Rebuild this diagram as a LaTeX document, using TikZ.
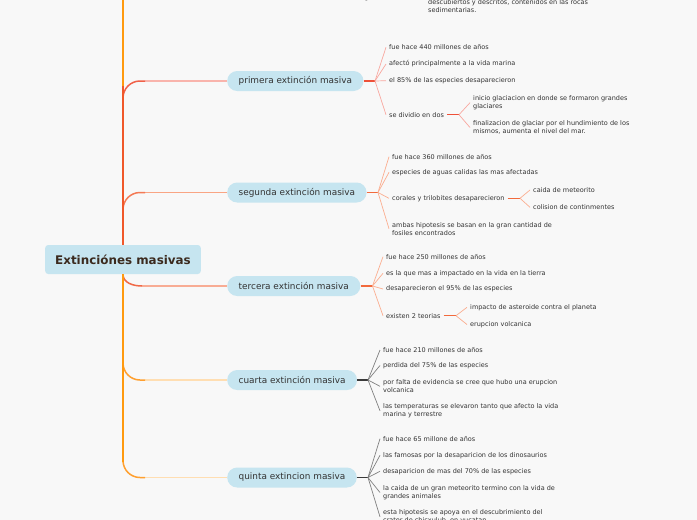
\documentclass[tikz,border=0pt]{standalone}
\usepackage{fontspec}
\setmainfont{DejaVu Sans}
\usetikzlibrary{positioning, calc}

\definecolor{bgcol}{HTML}{F8F8F8}
\definecolor{topicfill}{HTML}{C6E5F0}
\definecolor{maintext}{HTML}{3B2A1E}
\definecolor{leaftext}{HTML}{333333}
\definecolor{trunkred}{HTML}{F0582A}
\definecolor{trunkorange}{HTML}{FF9A10}
\definecolor{primdark}{HTML}{F06048}
\definecolor{primlight}{HTML}{F9B4AC}
\definecolor{segdark}{HTML}{F47A55}
\definecolor{seglight}{HTML}{F9A584}
\definecolor{terdark}{HTML}{F06A48}
\definecolor{terlight}{HTML}{F8AC94}
\definecolor{orangedark}{HTML}{FFA030}
\definecolor{orangelight}{HTML}{FFDEB2}
\definecolor{primjoint}{HTML}{EE5038}
\definecolor{primfan}{HTML}{F8A8A0}
\definecolor{segjoint}{HTML}{F26A3C}
\definecolor{segfan}{HTML}{FBAE90}
\definecolor{grayjoint}{HTML}{3A3A3A}
\definecolor{grayfan}{HTML}{808080}

\tikzset{
  central/.style={fill=topicfill, rounded corners=3pt, minimum height=29pt,
    inner xsep=10pt, inner ysep=0pt, text=maintext,
    font=\fontsize{11.9}{13}\selectfont\bfseries},
  topic/.style={fill=topicfill, rounded corners=10pt, minimum height=20pt,
    inner xsep=11.5pt, inner ysep=0pt, anchor=west, text=leaftext,
    font=\fontsize{8.9}{10}\selectfont},
  leaf/.style={anchor=west, inner xsep=3pt, inner ysep=0pt, align=left,
    text=leaftext, font=\fontsize{6.5}{8}\selectfont},
}

\begin{document}
\begin{tikzpicture}[
      x=1pt, y=-1pt,
      trunk/.style={line width=2.7pt},
      curvebranch/.style={line width=1.5pt, rounded corners=17pt},
      twig/.style={line width=1.1pt},
      joint/.style={line width=1.4pt},
      fan/.style={line width=0.7pt},
  ]
      % Canvas
      \useasboundingbox[fill=bgcol] (0,0) rectangle (697,520);
      \clip (0,0) rectangle (697,520);

      % Central topic
      \node[central] (main) at (123,259.5) {Extinciónes masivas};

      % Main topics
      \node[topic] (t1) at (227,81) {primera extinción masiva};
      \node[topic] (t2) at (227,192.5) {segunda extinción masiva};
      \node[topic] (t3) at (227,286) {tercera extinción masiva};
      \node[topic] (t4) at (227,380) {cuarta extinción masiva};
      \node[topic] (t5) at (227,477.5) {quinta extincion masiva};

      % Ends of the curved parts of the branches
      \coordinate (b1) at (145,81);
      \coordinate (b2) at (145,192.5);
      \coordinate (b3) at (142,286);
      \coordinate (b4) at (145,380);
      \coordinate (b5) at (145,477.5);
      \coordinate (top) at (123,-20);

      % Branches: light straight parts
      \draw[twig, primlight] (b1) -- (t1);
      \draw[twig, seglight] (b2) -- (t2);
      \draw[twig, terlight] (b3) -- (t3);
      \draw[twig, orangelight] (b4) -- (t4);
      \draw[twig, orangelight] (b5) -- (t5);

      % Branches: curved parts
      \draw[curvebranch, primdark] (main.north) |- (b1);
      \draw[curvebranch, segdark] (main.north) |- (b2);
      \draw[line width=1.5pt, terdark] (main.south) to[out=-90, in=180] (b3);
      \draw[curvebranch, orangedark] (main.south) |- (b4);
      \draw[curvebranch, orangedark] (main.south) |- (b5);

      % Trunk
      \draw[trunk, trunkorange] (main.north) -- (top);
      \draw[trunk, trunkred] (main.north) -- (123,86);
      \draw[trunk, trunkorange] (main.south) -- (123,462);

      % Off-screen topic, only its leaves show
      \node[leaf] (l0a) at (355,-2) {registro fosil};
      \node[leaf] (l0b) at (425,6) {descubiertos y descritos, contenidos en las rocas\\sedimentarias.};

      % primera: leaves
      \coordinate (j1) at (375,81);
      \node[leaf] (l1a) at (386,47.3) {fue hace 440 millones de años};
      \node[leaf] (l1b) at (386,64) {afectó principalmente a la vida marina};
      \node[leaf] (l1c) at (386,80.7) {el 85\% de las especies desaparecieron};
      \node[leaf] (l1d) at (386,114.7) {se dividio en dos};
      \draw[joint, primjoint] (t1) -- (j1);
      \foreach \n in {a,b,c,d} \draw[fan, primfan] (j1) -- (l1\n.west);

      \coordinate (j1d) at (459,114.7);
      \node[leaf] (l1e) at (470,102.7) {inicio glaciacion en donde se formaron grandes\\glaciares};
      \node[leaf] (l1f) at (470,127.5) {finalizacion de glaciar por el hundimiento de los\\mismos, aumenta el nivel del mar.};
      \draw[twig, primjoint] (l1d) -- (j1d);
      \foreach \n in {e,f} \draw[fan, primfan] (j1d) -- (l1\n.west);

      % segunda: leaves
      \coordinate (j2) at (378,192.5);
      \node[leaf] (l2a) at (389,156.7) {fue hace 360 millones de años};
      \node[leaf] (l2b) at (389,172.3) {especies de aguas calidas las mas afectadas};
      \node[leaf] (l2c) at (389,198.3) {corales y trilobites desaparecieron};
      \node[leaf] (l2d) at (389,228.7) {ambas hipotesis se basan en la gran cantidad de\\fosiles encontrados};
      \draw[joint, segjoint] (t2) -- (j2);
      \foreach \n in {a,b,c,d} \draw[fan, segfan] (j2) -- (l2\n.west);

      \coordinate (j2c) at (520,198.3);
      \node[leaf] (l2e) at (530,190) {caida de meteorito};
      \node[leaf] (l2f) at (530,207.3) {colision de continmentes};
      \draw[twig, segjoint] (l2c) -- (j2c);
      \foreach \n in {e,f} \draw[fan, segfan] (j2c) -- (l2\n.west);

      % tercera: leaves
      \coordinate (j3) at (372.5,286);
      \node[leaf] (l3a) at (383,256.7) {fue hace 250 millones de años};
      \node[leaf] (l3b) at (383,273.3) {es la que mas a impactado en la vida en la tierra};
      \node[leaf] (l3c) at (383,289) {desaparecieron el 95\% de las especies};
      \node[leaf] (l3d) at (383,315.7) {existen 2 teorias};
      \draw[joint, segjoint] (t3) -- (j3);
      \foreach \n in {a,b,c,d} \draw[fan, segfan] (j3) -- (l3\n.west);

      \coordinate (j3d) at (456,315.7);
      \node[leaf] (l3e) at (467,307.3) {impacto de asteroide contra el planeta};
      \node[leaf] (l3f) at (467,324.5) {erupcion volcanica};
      \draw[twig, segjoint] (l3d) -- (j3d);
      \foreach \n in {e,f} \draw[fan, segfan] (j3d) -- (l3\n.west);

      % cuarta: leaves
      \coordinate (j4) at (368,380);
      \node[leaf] (l4a) at (380,350) {fue hace 210 millones de años};
      \node[leaf] (l4b) at (380,365.5) {perdida del 75\% de las especies};
      \node[leaf] (l4c) at (380,386.3) {por falta de evidencia se cree que hubo una erupcion\\volcanica};
      \node[leaf] (l4d) at (380,410.8) {las temperaturas se elevaron tanto que afecto la vida\\marina y terrestre};
      \draw[joint, grayjoint] (t4) -- (j4);
      \foreach \n in {a,b,c,d} \draw[fan, grayfan] (j4) -- (l4\n.west);

      % quinta: leaves
      \coordinate (j5) at (368,477.5);
      \node[leaf] (l5a) at (380,438.7) {fue hace 65 millone de años};
      \node[leaf] (l5b) at (380,455.3) {las famosas por la desaparicion de los dinosaurios};
      \node[leaf] (l5c) at (380,471.3) {desaparicion de mas del 70\% de las especies};
      \node[leaf] (l5d) at (380,492.5) {la caida de un gran meteorito termino con la vida de\\grandes animales};
      \node[leaf] (l5e) at (380,516.8) {esta hipotesis se apoya en el descubrimiento del\\crater de chicxulub, en yucatan};
      \draw[joint, grayjoint] (t5) -- (j5);
      \foreach \n in {a,b,c,d,e} \draw[fan, grayfan] (j5) -- (l5\n.west);

\end{tikzpicture}
\end{document}
